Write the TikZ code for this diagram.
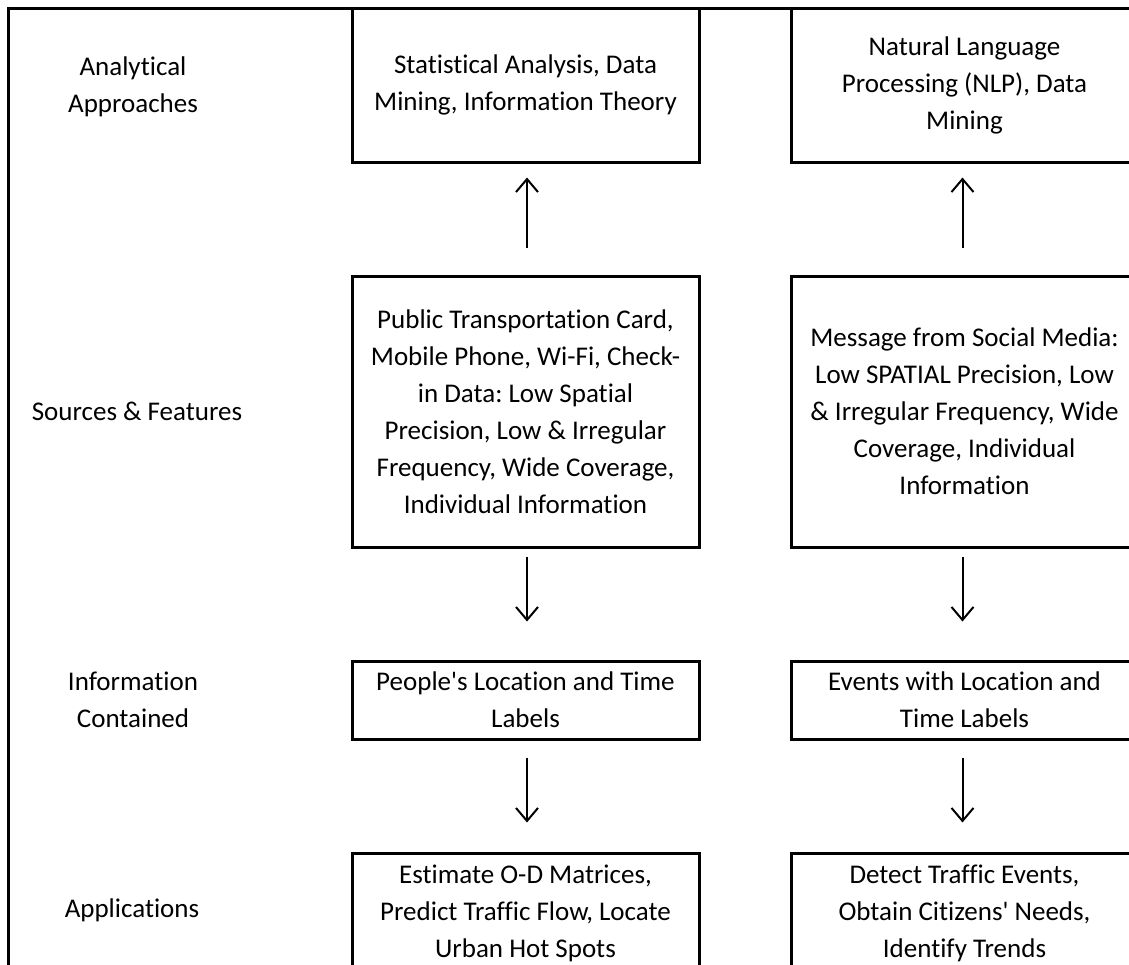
\documentclass[tikz,border=0pt]{standalone}
\usepackage{fontspec}
\setmainfont{Carlito}[Ligatures={NoCommon}]
\usetikzlibrary{arrows.meta}
\newcommand{\qs}{\textquotesingle}
\frenchspacing
\begin{document}
\begin{tikzpicture}[x=1bp,y=-1bp,
  every node/.style={font=\fontsize{27bp}{37bp}\selectfont, align=center, inner sep=0pt},
  box/.style={draw, line width=3bp, minimum width=347bp},
  lbl/.style={},
  arr/.style={line width=2bp, -{Straight Barb[length=13bp,width=22bp,line width=2bp]}}]
\useasboundingbox (0,0) rectangle (1129,965);
\clip (0,0) rectangle (1129,965);
% outer frame
\draw[line width=3bp] (8,8) rectangle (1150,990);
% row labels
\node[lbl] (l1) at (133,87) {Analytical\\Approaches};
\node[lbl] (l2) at (137,411) {Sources \& Features};
\node[lbl] (l3) at (133,700) {Information\\Contained};
\node[lbl] (l4) at (132,910) {Applications};
% left column
\node[box, minimum height=154bp] (a1) at (525.5,85) {Statistical Analysis, Data\\Mining, Information Theory};
\node[box, minimum height=271bp] (a2) at (525.5,411.5) {Public Transportation Card,\\Mobile Phone, Wi-Fi, Check-\\in Data: Low Spatial\\Precision, Low \& Irregular\\Frequency, Wide Coverage,\\Individual Information};
\node[box, minimum height=78bp] (a3) at (525.5,700) {People\qs s Location and Time\\Labels};
\node[box, minimum height=120bp] (a4) at (525.5,913) {Estimate O-D Matrices,\\Predict Traffic Flow, Locate\\Urban Hot Spots};
% right column
\node[box, minimum height=154bp] (b1) at (964.5,85) {Natural Language\\Processing (NLP), Data\\Mining};
\node[box, minimum height=271bp] (b2) at (964.5,411.5) {Message from Social Media:\\Low SPATIAL Precision, Low\\\& Irregular Frequency, Wide\\Coverage, Individual\\Information};
\node[box, minimum height=78bp] (b3) at (964.5,700) {Events with Location and\\Time Labels};
\node[box, minimum height=120bp] (b4) at (964.5,913) {Detect Traffic Events,\\Obtain Citizens\qs{} Needs,\\Identify Trends};
% connectors
\draw[arr, shorten <=27bp, shorten >=14bp] ([xshift=1.5bp]a2.north) -- ([xshift=1.5bp]a1.south);
\draw[arr, shorten <=27bp, shorten >=14bp] ([xshift=-2bp]b2.north) -- ([xshift=-2bp]b1.south);
\draw[arr, shorten <=8bp, shorten >=38bp] ([xshift=1.5bp]a2.south) -- ([xshift=1.5bp]a3.north);
\draw[arr, shorten <=8bp, shorten >=38bp] ([xshift=-2bp]b2.south) -- ([xshift=-2bp]b3.north);
\draw[arr, shorten <=17bp, shorten >=29bp] ([xshift=1.5bp]a3.south) -- ([xshift=1.5bp]a4.north);
\draw[arr, shorten <=17bp, shorten >=29bp] ([xshift=-2bp]b3.south) -- ([xshift=-2bp]b4.north);
\end{tikzpicture}
\end{document}
